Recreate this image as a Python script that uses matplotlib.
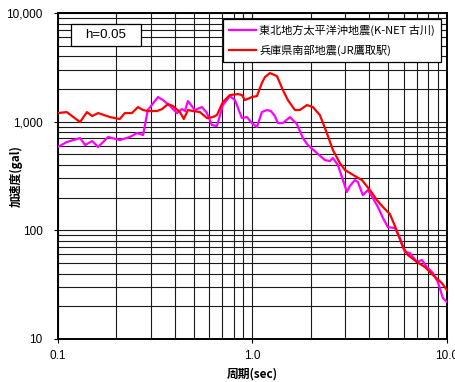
import numpy as np
import matplotlib
matplotlib.use('Agg')
import matplotlib.pyplot as plt
from matplotlib.ticker import FixedLocator, NullFormatter, LogLocator
from matplotlib.patches import Rectangle

plt.rcParams['font.family'] = ['Liberation Sans', 'Noto Sans CJK JP', 'DejaVu Sans']

# 応答スペクトル (h=0.05)
t_kfuru = [0.100, 0.111, 0.130, 0.138, 0.150, 0.161, 0.181, 0.208, 0.234, 0.255,
           0.274, 0.290, 0.327, 0.347, 0.377, 0.409, 0.434, 0.450, 0.466, 0.506,
           0.550, 0.584, 0.619, 0.657, 0.705, 0.766, 0.813, 0.883, 0.937, 0.994,
           1.055, 1.119, 1.188, 1.245, 1.305, 1.353, 1.435, 1.559, 1.693, 1.818,
           1.929, 2.146, 2.359, 2.503, 2.594, 2.752, 2.920, 3.061, 3.172, 3.365,
           3.486, 3.699, 3.925, 4.165, 4.419, 4.688, 4.975, 5.404, 5.733, 6.083,
           6.454, 7.012, 7.439, 7.893, 8.472, 8.988, 9.537, 10.0]
a_kfuru = [584, 649, 707, 609, 663, 584, 722, 677, 722, 785,
           753, 1279, 1684, 1580, 1392, 1200, 1306, 1252, 1547, 1279,
           1362, 1200, 930, 911, 1421, 1720, 1580, 1079, 1102, 970,
           892, 1225, 1279, 1252, 1126, 970, 970, 1102, 950, 707,
           609, 514, 443, 434, 463, 399, 290, 225, 256, 290,
           278, 211, 235, 198, 164, 130, 107, 105, 85.0, 63.2,
           61.8, 51.1, 53.3, 46.0, 40.5, 33.4, 23.8, 21.9]

t_jrt = [0.100, 0.111, 0.130, 0.141, 0.150, 0.161, 0.185, 0.208, 0.221, 0.240,
         0.258, 0.274, 0.290, 0.323, 0.343, 0.368, 0.390, 0.424, 0.444, 0.466,
         0.495, 0.537, 0.584, 0.627, 0.657, 0.705, 0.766, 0.842, 0.883, 0.915,
         0.994, 1.055, 1.119, 1.160, 1.230, 1.337, 1.435, 1.522, 1.654, 1.754,
         1.906, 2.046, 2.223, 2.415, 2.594, 2.818, 2.990, 3.365, 3.656, 4.019,
         4.366, 4.688, 5.093, 5.404, 5.939, 6.303, 7.012, 7.709, 8.472, 9.426, 10.0]
a_jrt = [1200, 1225, 991, 1225, 1126, 1200, 1102, 1057, 1200, 1200,
         1362, 1279, 1252, 1252, 1306, 1452, 1392, 1225, 1057, 1279,
         1252, 1225, 1079, 1102, 1150, 1514, 1757, 1794, 1757, 1580,
         1684, 1720, 2265, 2573, 2800, 2628, 1953, 1580, 1279, 1279,
         1421, 1362, 1150, 785, 548, 416, 359, 316, 290, 235,
         190, 164, 141, 110, 70.2, 59.3, 51.1, 46.0, 38.8, 32.7, 28.2]

labels = ['東北地方太平洋沖地震(K-NET 古川)', '兵庫県南部地震(JR鷹取駅)']
xticks = [0.1, 1.0, 10.0]
xtick_labels = ['0.1', '1.0', '10.0']
yticks = [10, 100, 1000, 10000]
ytick_labels = ['10', '100', '1,000', '10,000']

fig = plt.figure(figsize=(4.56, 3.82), dpi=100)
ax = fig.add_axes([0.127, 0.1126, 0.853, 0.8534])

ax.plot(t_kfuru, a_kfuru, color='#FF00FF', lw=1.6, label=labels[0], zorder=3)
ax.plot(t_jrt, a_jrt, color='#FF0000', lw=1.6, label=labels[1], zorder=4)

ax.set_xscale('log')
ax.set_yscale('log')
ax.set_xlim(0.1, 10)
ax.set_ylim(10, 10000)

ax.xaxis.set_major_locator(FixedLocator(xticks))
ax.set_xticklabels(xtick_labels)
ax.yaxis.set_major_locator(FixedLocator(yticks))
ax.set_yticklabels(ytick_labels)
for axis in (ax.xaxis, ax.yaxis):
    axis.set_minor_locator(LogLocator(base=10, subs=np.arange(2, 10)))
    axis.set_minor_formatter(NullFormatter())
ax.tick_params(which='major', direction='out', length=3, width=0.8, labelsize=8.5)
ax.tick_params(axis='y', pad=8)
ax.tick_params(axis='x', pad=5)
ax.tick_params(which='minor', length=0)

ax.grid(which='both', color='#1a1a1a', lw=0.8)
for s in ax.spines.values():
    s.set_linewidth(1.4)

ax.set_xlabel('周期(sec)', fontsize=8.5, fontweight='bold',
              family=['Noto Sans CJK JP', 'DejaVu Sans'])
ax.set_ylabel('加速度(gal)', fontsize=8.5, fontweight='bold',
              family=['Noto Sans CJK JP', 'DejaVu Sans'])
ax.xaxis.set_label_coords(0.5, -0.088)
ax.yaxis.set_label_coords(-0.09, 0.5)

# h=0.05 の枠
ax.add_patch(Rectangle((0.0334, 0.899), 0.18, 0.067, transform=ax.transAxes,
                       fc='white', ec='black', lw=0.9, zorder=5))
ax.text(0.1234, 0.9325, 'h=0.05', transform=ax.transAxes, fontsize=9.5,
        ha='center', va='center', zorder=6)

leg = ax.legend(loc='upper right', bbox_to_anchor=(0.985, 0.982),
                frameon=True, fancybox=False, edgecolor='black', framealpha=1,
                handlelength=2.4, handletextpad=0.3, borderpad=0.55,
                labelspacing=0.75, borderaxespad=0.0,
                prop={'family': ['Noto Sans CJK JP', 'DejaVu Sans'], 'size': 8})
leg.get_frame().set_linewidth(0.9)
leg.set_zorder(6)

fig.savefig('out.png', dpi=100)
